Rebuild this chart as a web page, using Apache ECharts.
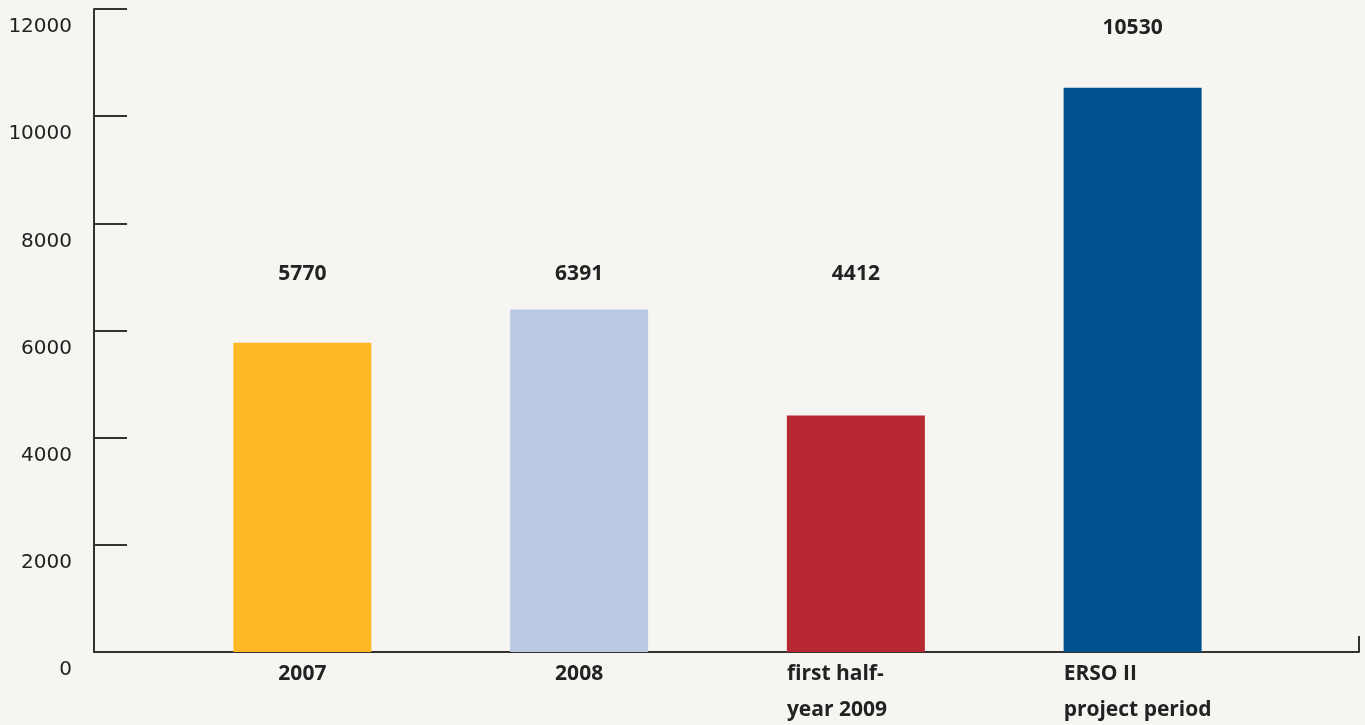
<!DOCTYPE html>
<html>
<head>
<meta charset="utf-8">
<script src="https://cdn.jsdelivr.net/npm/echarts@6/dist/echarts.min.js"></script>
<style>
  html, body { margin: 0; padding: 0; background: #f6f5f2; }
  #chart { width: 1365px; height: 725px; }
</style>
</head>
<body>
<div id="chart"></div>
<script>
// ---- data ----
const categories = ['2007', '2008', 'first half-\nyear 2009', 'ERSO II\nproject period'];
const values = [5770, 6391, 4412, 10530];
const yTicks = [0, 2000, 4000, 6000, 8000, 10000, 12000];

// ---- styles ----
const barColors = ['#fdb823', '#bbcae2', '#b72832', '#00538f'];
const labelDistances = [59, 26, 132, 50];
const axisColor = '#333333';
const textColor = '#222222';
const boldFont = 'Open Sans';

const chart = echarts.init(document.getElementById('chart'), null, { renderer: 'canvas' });

const option = {
  backgroundColor: '#f6f5f2',
  animation: false,
  grid: [
    { left: 94, right: 6, top: 9, bottom: 73, containLabel: false },
    { left: 164, right: 94, top: 9, bottom: 73, containLabel: false }
  ],
  xAxis: [
    {
      gridIndex: 0, type: 'value', min: 0, max: 1, interval: 1,
      axisLine: { show: true, lineStyle: { color: axisColor, width: 2 } },
      axisTick: { show: true, inside: true, length: 16, lineStyle: { color: axisColor, width: 2 } },
      axisLabel: { show: false },
      splitLine: { show: false }
    },
    {
      gridIndex: 1, type: 'category', data: categories,
      axisLine: { show: false },
      axisTick: { show: false },
      splitLine: { show: false },
      axisLabel: {
        interval: 0,
        margin: 4,
        color: textColor,
        formatter: function (v) {
          const lines = v.split('\n');
          if (lines.length > 1) return lines.map(l => '{l|' + l + '}').join('\n');
          return '{c|' + v + '}';
        },
        rich: {
          l: { width: 138, align: 'left', fontFamily: boldFont, fontWeight: 'bold', fontSize: 21, lineHeight: 36, color: textColor },
          c: { width: 138, align: 'center', fontFamily: boldFont, fontWeight: 'bold', fontSize: 21, lineHeight: 36, color: textColor }
        }
      }
    }
  ],
  yAxis: [
    {
      gridIndex: 0, type: 'value', min: yTicks[0], max: yTicks[yTicks.length - 1], interval: 2000,
      axisLine: { show: true, lineStyle: { color: axisColor, width: 2 } },
      axisTick: { show: true, inside: true, length: 33, lineStyle: { color: axisColor, width: 2 } },
      splitLine: { show: false },
      axisLabel: {
        margin: 22,
        color: textColor,
        fontFamily: 'DejaVu Sans',
        fontSize: 20,
        lineHeight: 20,
        verticalAlign: 'top',
        padding: [8, 0, 0, 0],
        formatter: function (v) { return String(v); }
      }
    },
    {
      gridIndex: 1, type: 'value', min: yTicks[0], max: yTicks[yTicks.length - 1], interval: 2000,
      show: false
    }
  ],
  series: [
    {
      type: 'bar',
      xAxisIndex: 1, yAxisIndex: 1,
      barWidth: 138,
      data: values.map((v, i) => ({
        value: v,
        itemStyle: { color: barColors[i] },
        label: { distance: labelDistances[i] }
      })),
      label: {
        show: true,
        position: 'top',
        color: textColor,
        fontFamily: boldFont,
        fontWeight: 'bold',
        fontSize: 21,
        lineHeight: 20
      }
    }
  ]
};
chart.setOption(option);
</script>
</body>
</html>
